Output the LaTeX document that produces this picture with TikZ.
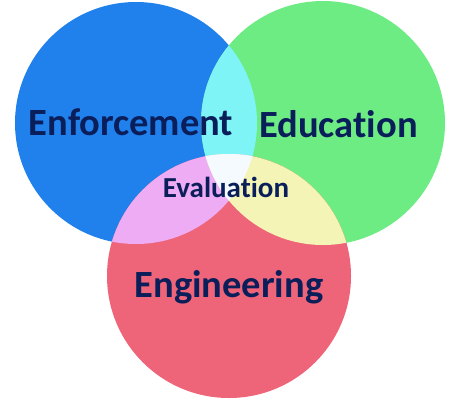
\documentclass[tikz,border=0pt]{standalone}
\usepackage{fontspec}
\setmainfont[RawFeature={-liga;-dlig;-clig}]{Carlito}
\usepackage{tikz}
\definecolor{enfblue}{RGB}{32, 128, 236}
\definecolor{edugreen}{RGB}{110, 236, 132}
\definecolor{engred}{RGB}{238, 100, 120}
\definecolor{enfedu}{RGB}{126, 244, 246}
\definecolor{enfeng}{RGB}{238, 172, 244}
\definecolor{edueng}{RGB}{244, 244, 182}
\definecolor{allthree}{RGB}{244, 250, 254}
\definecolor{labelnavy}{RGB}{10, 30, 90}
\usetikzlibrary{calc}
\tikzset{
    biglabel/.style={text=labelnavy, font=\fontsize{38.5}{40}\selectfont\bfseries,
        anchor=base, inner sep=0pt},
    smalllabel/.style={biglabel, font=\fontsize{29}{30}\selectfont\bfseries},
}

\begin{document}
\begin{tikzpicture}[x=1pt, y=-1pt]
        \useasboundingbox (0, 0) rectangle (449, 402);
        \coordinate (enfball) at (136, 123);
        \coordinate (eduball) at (323, 123);
        \coordinate (engball) at (229, 276);
        \fill[enfblue] (enfball) circle (121);
        \fill[edugreen] (eduball) circle (122);
        \fill[engred] (engball) circle (122);
        % pairwise overlaps
        \begin{scope}
            \clip (enfball) circle (121);
            \fill[enfedu] (eduball) circle (122);
            \fill[enfeng] (engball) circle (122);
        \end{scope}
        \begin{scope}
            \clip (eduball) circle (122);
            \fill[edueng] (engball) circle (122);
        \end{scope}
        % middle of all three
        \begin{scope}
            \clip (enfball) circle (121);
            \clip (eduball) circle (122);
            \fill[allthree] (engball) circle (122);
        \end{scope}
        \node[biglabel] (enforcement) at (131, 135) {Enforcement};
        \node[biglabel] (education) at (338.5, 137) {Education};
        \node[smalllabel] (evaluation) at (226, 197) {Evaluation};
        \node[biglabel] (engineering) at (229, 297) {Engineering};
    \end{tikzpicture}
\end{document}
